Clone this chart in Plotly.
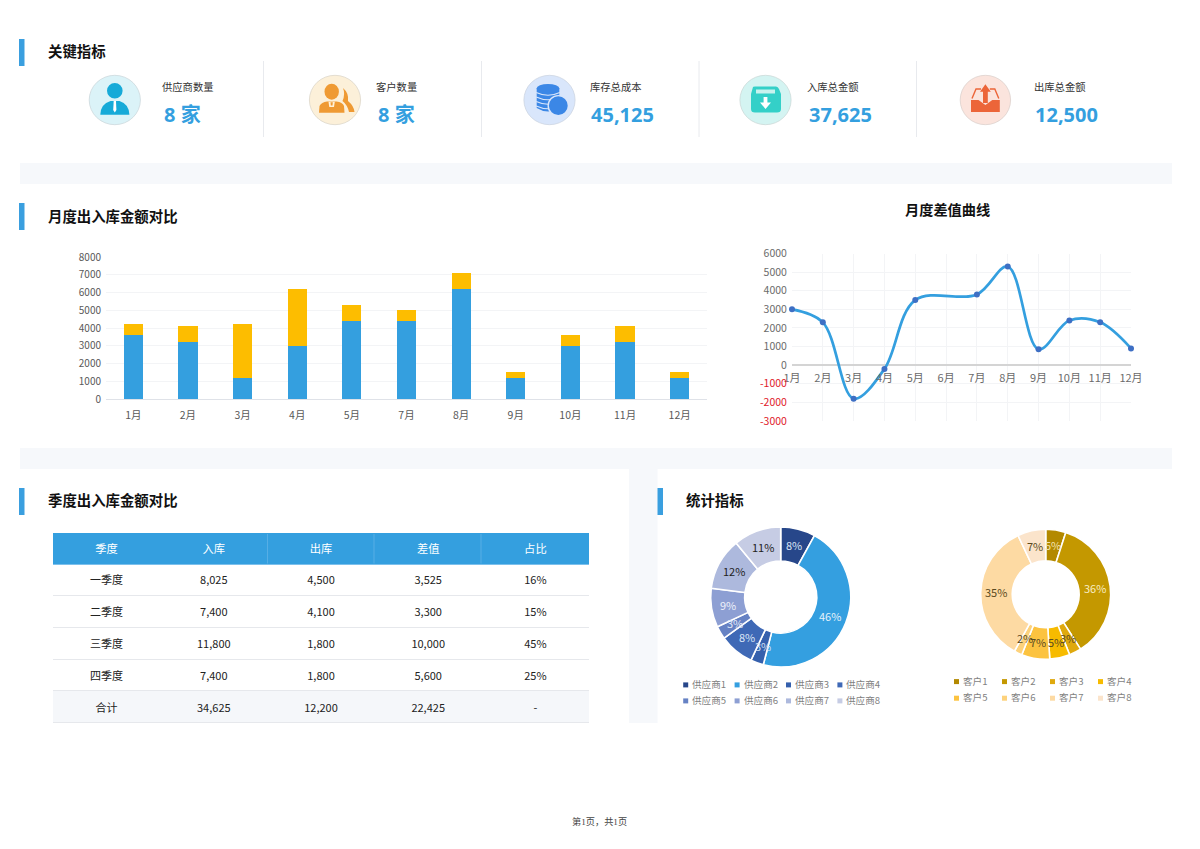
import math
import plotly.graph_objects as go

W, H = 1200, 849
CJK = "Noto Sans CJK SC"
# ---------- data ----------
kpi_labels = ["供应商数量", "客户数量", "库存总成本", "入库总金额", "出库总金额"]
kpi_values = ["8 家", "8 家", "45,125", "37,625", "12,500"]
bar_months = ["1月", "2月", "3月", "4月", "5月", "7月", "8月", "9月", "10月", "11月", "12月"]
bar_in = [3600, 3200, 1200, 3000, 4400, 4400, 6200, 1200, 3000, 3200, 1200]
bar_out = [600, 900, 3000, 3200, 900, 600, 900, 300, 600, 900, 300]
line_months = ["1月", "2月", "3月", "4月", "5月", "6月", "7月", "8月", "9月", "10月", "11月", "12月"]
line_diff = [3000, 2300, -1800, -200, 3500, None, 3800, 5300, 850, 2400, 2300, 900]
line_ticks = [6000, 5000, 4000, 3000, 2000, 1000, 0, -1000, -2000, -3000]
table_header = ["季度", "入库", "出库", "差值", "占比"]
table_quarter = ["一季度", "二季度", "三季度", "四季度", "合计"]
table_in = ["8,025", "7,400", "11,800", "7,400", "34,625"]
table_out = ["4,500", "4,100", "1,800", "1,800", "12,200"]
table_diff = ["3,525", "3,300", "10,000", "5,600", "22,425"]
table_share = ["16%", "15%", "45%", "25%", "-"]
sup_labels = ["供应商1", "供应商2", "供应商3", "供应商4", "供应商5", "供应商6", "供应商7", "供应商8"]
sup_values = [8, 46, 3, 8, 3, 9, 12, 11]
cus_labels = ["客户1", "客户2", "客户3", "客户4", "客户5", "客户6", "客户7", "客户8"]
cus_values = [5, 36, 3, 5, 7, 2, 35, 7]

sup_colors = ["#27478a", "#349fe0", "#3560ad", "#3f69b6", "#6682c4", "#8d9fd3", "#adb9dd", "#c6cce4"]
cus_colors = ["#b38900", "#c49800", "#dfa90e", "#f7bb00", "#fcc340", "#fdd27c", "#fddaa3", "#fbe4cb"]
BLUE, YEL = "#349fdf", "#fdbd00"

# ---------- helpers ----------
X = lambda v: v / W
Y = lambda v: 1 - v / H
shapes, annos = [], []

def rect(x0, y0, x1, y1, color, layer="below"):
    shapes.append(dict(type="rect", xref="paper", yref="paper", x0=X(x0), x1=X(x1), y0=Y(y0), y1=Y(y1),
                       fillcolor=color, line_width=0, layer=layer))

def hline(x0, x1, y, color, width=1, layer="above"):
    shapes.append(dict(type="line", xref="paper", yref="paper", x0=X(x0), x1=X(x1), y0=Y(y), y1=Y(y),
                       line=dict(color=color, width=width), layer=layer))

def vline(x, y0, y1, color, width=1, layer="above"):
    shapes.append(dict(type="line", xref="paper", yref="paper", x0=X(x), x1=X(x), y0=Y(y0), y1=Y(y1),
                       line=dict(color=color, width=width), layer=layer))

def ell(cx, cy, rx, ry, color, line=None, lw=0.7):
    shapes.append(dict(type="circle", xref="paper", yref="paper", x0=X(cx - rx), x1=X(cx + rx), y0=Y(cy + ry), y1=Y(cy - ry),
                       fillcolor=color, line=dict(color=line or color, width=lw if line else 0), layer="above"))

def _d(cmds):
    out = []
    for c in cmds:
        nums = c[1:]
        pairs = [f"{X(nums[i])},{Y(nums[i + 1])}" for i in range(0, len(nums), 2)]
        out.append(c[0] + " " + " ".join(pairs))
    return " ".join(out)

def path(cmds, color):
    shapes.append(dict(type="path", xref="paper", yref="paper", path=_d(cmds), fillcolor=color, line_width=0, layer="above"))

def stroke(cmds, color, width=1.1):
    shapes.append(dict(type="path", xref="paper", yref="paper", path=_d(cmds), fillcolor="rgba(0,0,0,0)",
                       line=dict(color=color, width=width), layer="above"))

def text(x, y, s, size=11, color="#333333", weight=400, anchor="left", family=CJK):
    annos.append(dict(xref="paper", yref="paper", x=X(x), y=Y(y - 1), text=s, showarrow=False, xanchor=anchor,
                      yanchor="middle", borderpad=0, font=dict(size=size, color=color, family=family, weight=weight)))

# ---------- panels ----------
rect(20, 163, 1172, 184, "#f6f8fb")
rect(20, 448, 1172, 469, "#f6f8fb")
rect(629, 469, 657.5, 723, "#f6f8fb")
for x, y0 in [(19, 39), (19, 203), (19, 488), (657.5, 488)]:
    rect(x, y0, x + 5.5, y0 + 27, "#3a9fdf")
for x, y, s in [(47, 52, "关键指标"), (47, 216, "月度出入库金额对比"), (47, 501, "季度出入库金额对比"), (684.5, 501, "统计指标")]:
    text(x, y, s, size=14.4, color="#111111", weight=700)
text(947.5, 210, "月度差值曲线", size=14.2, color="#111111", weight=700, anchor="center")

# ---------- KPI ----------
for x in [263.5, 481.5, 699, 916.5]:
    vline(x, 61, 137, "#e8eaee")
label_x = [160.7, 374.7, 588.7, 805.7, 1032.7]
value_x = [163, 377, 590, 808, 1034]
for lx, vx, l, v in zip(label_x, value_x, kpi_labels, kpi_values):
    text(lx, 87, l, size=10.3, color="#333333")
    text(vx, 116, v, size=20, color="#349fdf", weight=700, family="Noto Sans, " + CJK)

# icon 1: person
cx = 114.8
ell(cx, 100, 25.6, 24.7, "#dbf3f8", "#c8d4d8")
ell(cx, 90.7, 7.8, 7.8, "#16aad8")
path([("M", 100.3, 114.7), ("Q", 100.5, 104, 110.5, 101), ("L", 119.5, 101), ("Q", 129, 104, 129.4, 114.7), ("Z",)], "#16aad8")
path([("M", 113.7, 101), ("L", 116, 101), ("L", 116.4, 110), ("L", 114.8, 112.5), ("L", 113.2, 110), ("Z",)], "#ffffff")
# icon 2: customers
cx = 335
ell(cx, 100, 25.6, 24.7, "#fcf0d9", "#d8d3c6")
path([("M", 343, 88), ("Q", 349, 93, 348, 101), ("Q", 354, 106, 354.5, 112), ("L", 349, 112),
      ("Q", 347.5, 105, 342.5, 101), ("Q", 345.5, 94, 343, 88), ("Z",)], "#ef9a33")
ell(331.7, 91.7, 7.2, 8, "#ef9a33")
path([("M", 319, 112.7), ("L", 319.5, 106), ("Q", 321.5, 102, 327, 101.5), ("L", 336.5, 101.5), ("Q", 342.5, 102, 344, 106), ("L", 344.5, 112.7), ("Z",)], "#ef9a33")
path([("M", 328.5, 101.8), ("L", 334.8, 101.8), ("L", 334, 107), ("L", 329.3, 107), ("Z",)], "#fff1d8")
path([("M", 330.5, 102.2), ("L", 332.8, 102.2), ("L", 332.5, 105.6), ("L", 330.8, 105.6), ("Z",)], "#ef9a33")
# icon 3: database
cx = 549.5
ell(cx, 100, 25.6, 24.7, "#d9e6fb", "#c9d1de")
path([("M", 536.7, 88.5), ("L", 559.3, 88.5), ("L", 559.3, 108), ("Q", 548, 115, 536.7, 108), ("Z",)], "#3b87e6")
for y in [92.5, 97, 101.5, 106]:
    stroke([("M", 536.2, y), ("Q", 548, y + 5.5, 559.8, y)], "#d9e6fb", 1.1)
ell(548, 88.5, 11.4, 4.6, "#3b87e6")
ell(558.3, 105.7, 10.8, 10.8, "#d9e6fb")
ell(558.3, 105.7, 9.4, 9.4, "#3b87e6")
# icon 4: inbox
cx = 765.5
ell(cx, 100, 25.6, 24.7, "#d4f4f2", "#c9d5d4")
path([("M", 753, 87), ("Q", 753, 86.5, 755, 86.5), ("L", 776, 86.5), ("Q", 778, 86.5, 779, 89), ("L", 781, 94), ("L", 781, 109), ("Q", 781, 112.5, 777, 112.5), ("L", 755, 112.5),
      ("Q", 751, 112.5, 751, 109), ("L", 751, 94), ("Z",)], "#34d0c8")
rect(756, 89.5, 775, 93.5, "#c8f2ee", layer="above")
path([("M", 763.6, 97), ("L", 767.4, 97), ("L", 767.4, 102.5), ("L", 771, 102.5), ("L", 765.5, 109), ("L", 760, 102.5), ("L", 763.6, 102.5), ("Z",)], "#ffffff")
# icon 5: outbox
cx = 985.4
ell(cx, 100, 25.2, 24.7, "#fbe4dd", "#d9cdc9")
path([("M", 971, 112), ("L", 971, 100), ("L", 978.5, 100), ("L", 985.4, 105), ("L", 992.3, 100), ("L", 999.8, 100), ("L", 999.8, 112), ("Z",)], "#ec6539")
stroke([("M", 972, 98.5), ("L", 976, 89), ("L", 981, 89)], "#ec6539", 1.4)
stroke([("M", 998.8, 98.5), ("L", 994.8, 89), ("L", 989.8, 89)], "#ec6539", 1.4)
path([("M", 985.4, 84.3), ("L", 990.8, 91.7), ("L", 987.8, 91.7), ("L", 987.8, 103), ("L", 983, 103), ("L", 983, 91.7), ("L", 980, 91.7), ("Z",)], "#ec6539")

# ---------- footer ----------
text(599.5, 822, "第1页，共1页", size=9.2, color="#444444", anchor="center", family="Liberation Serif, " + CJK)

# ---------- pie legends ----------
for i, (l, c) in enumerate(zip(sup_labels, sup_colors)):
    x0 = 683.2 + (i % 4) * 51.4
    y = 685 + (i // 4) * 16
    rect(x0, y - 2.6, x0 + 5, y + 2.4, c)
    text(x0 + 8, y, l, size=9.6, color="#7f7f7f")
for i, (l, c) in enumerate(zip(cus_labels, cus_colors)):
    x0 = 954 + (i % 4) * 48
    y = 681.7 + (i // 4) * 16.6
    rect(x0, y - 2.6, x0 + 5, y + 2.4, c)
    text(x0 + 8, y, l, size=9.6, color="#7f7f7f")

# ---------- table rules ----------
rect(53, 533, 589, 564, BLUE)
rect(53, 690.5, 589, 722.5, "#f5f7fa")
for y in [595.5, 627.5, 659.5, 690.5, 722.5]:
    hline(53, 589, y, "#e6e8ec", 1, layer="below")
for x in [267.5, 374, 481]:
    vline(x, 534, 563.5, "#5fb3e6", 0.8, layer="below")
hline(53, 589, 564.5, "#7cc0ec", 1.2, layer="below")

fig = go.Figure()

# ---------- stacked bars ----------
fig.add_bar(x=bar_months, y=bar_in, name="入库", marker_color=BLUE, marker_line_width=0, xaxis="x", yaxis="y")
fig.add_bar(x=bar_months, y=bar_out, name="出库", marker_color=YEL, marker_line_width=0, xaxis="x", yaxis="y")

# ---------- curve ----------
fig.add_scatter(x=line_months, y=line_diff, mode="lines+markers", connectgaps=True, xaxis="x2", yaxis="y2",
                line=dict(color="#349fdf", width=2.7, shape="spline", smoothing=1.0),
                marker=dict(color="#3e6fc4", size=6), cliponaxis=False)

# ---------- donuts ----------
def pie(labels, values, colors, txt, cx, cy, r, hole):
    fig.add_pie(labels=labels, values=values, sort=False, direction="clockwise", rotation=0, hole=hole,
                domain=dict(x=[X(cx - r), X(cx + r)], y=[Y(cy + r), Y(cy - r)]),
                marker=dict(colors=colors, line=dict(color="#ffffff", width=1.6)),
                textinfo="none", showlegend=False)
    total = sum(values)
    run = 0
    rm = r * (1 + hole) / 2
    for v, c in zip(values, txt):
        a = 2 * math.pi * (run + v / 2) / total
        run += v
        text(cx + rm * math.sin(a), cy + 0.5 - rm * math.cos(a), f"{round(100 * v / total)}%", size=11, color=c, anchor="center")

pie(sup_labels, sup_values, sup_colors, ["#d8e4f5", "#e4f2fb", "#cfe0f5", "#dbe6f7", "#e2e9f7", "#edf1fa", "#222222", "#222222"], 780.7, 597, 70, 0.515)
pie(cus_labels, cus_values, cus_colors, ["#f3e3b0", "#f8edc4", "#5a4a20", "#5a4a20", "#5a4a20", "#5a4a20", "#5a4a20", "#5a4a20"], 1045.7, 594.3, 65, 0.515)

# ---------- table ----------
clear = "rgba(0,0,0,0)"
fig.add_table(domain=dict(x=[X(53), X(589)], y=[Y(740), Y(537)]), columnwidth=[1, 1, 1, 1, 1],
              header=dict(values=table_header, fill_color=clear, height=31, align="center",
                          line=dict(width=0, color=clear), font=dict(color="#ffffff", size=11.3, family=CJK)),
              cells=dict(values=[table_quarter, table_in, table_out, table_diff, table_share], height=32, align="center",
                         fill_color=clear, line=dict(width=0, color=clear),
                         font=dict(color="#222222", size=11, family=CJK)))

# ---------- layout ----------
tick = dict(size=10, color="#595959", family=CJK)
line_ticktext = [f'<span style="color:#e0202a">{v}</span>' if v < 0 else str(v) for v in line_ticks]
zero_line_pos = Y(364.7)
fig.update_layout(
    width=W, height=H, margin=dict(l=0, r=0, t=0, b=0, pad=0, autoexpand=False), paper_bgcolor="#ffffff", plot_bgcolor="rgba(0,0,0,0)",
    showlegend=False, barmode="stack", bargap=0.65, hovermode=False, shapes=shapes, annotations=annos,
    font=dict(family=CJK),
    xaxis=dict(domain=[X(106), X(707)], anchor="y", showgrid=False, showline=True, linecolor="#dfe2e8", linewidth=1,
               ticks="outside", ticklen=6, tickcolor="rgba(0,0,0,0)", tickfont=dict(size=10.5, color="#595959", family=CJK), categoryorder="array", categoryarray=bar_months),
    yaxis=dict(domain=[Y(399), Y(257)], range=[0, 8000], dtick=1000, anchor="x", gridcolor="#f3f4f6", gridwidth=1,
               zeroline=False, showline=False, ticks="outside", ticklen=2, tickcolor="rgba(0,0,0,0)", tickfont=tick),
    xaxis2=dict(domain=[X(792), X(1131)], anchor="free", position=zero_line_pos, type="category", categoryorder="array",
                categoryarray=line_months, range=[0, 11], showgrid=True, gridcolor="#f3f4f6", showline=False,
                ticks="outside", ticklen=3, tickcolor="rgba(0,0,0,0)", tickfont=dict(size=11, color="#6b6b6b", family=CJK)),
    yaxis2=dict(domain=[Y(421), Y(253.5)], range=[-3000, 6000], anchor="x2", tickmode="array", tickvals=line_ticks,
                ticktext=line_ticktext, gridcolor="#f3f4f6", zeroline=True, zerolinecolor="#d4d4d4", zerolinewidth=1.5,
                showline=False, ticks="outside", ticklen=2, tickcolor="rgba(0,0,0,0)", tickfont=dict(size=10.5, color="#6b6b6b", family=CJK)),
)

fig.write_html("out.html", config={"displayModeBar": False},
               post_script="document.body.style.margin='0';document.documentElement.style.overflow='hidden';")
